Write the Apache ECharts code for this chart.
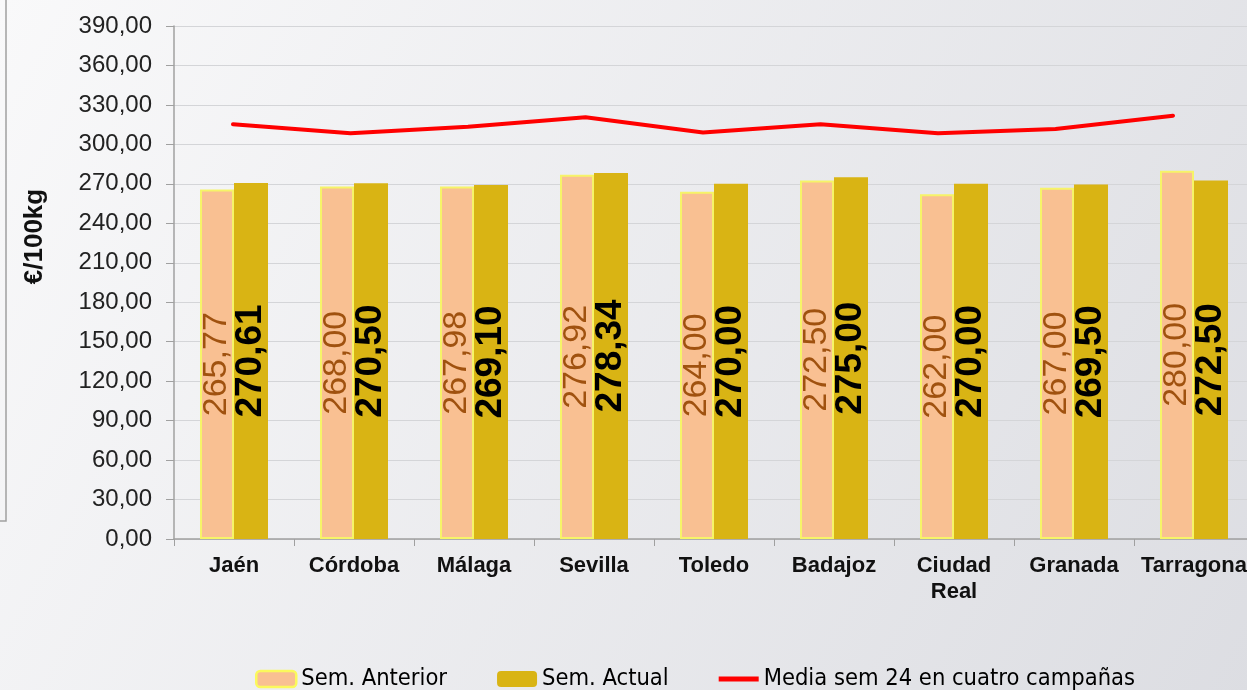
<!DOCTYPE html>
<html>
<head>
<meta charset="utf-8">
<script src="https://cdn.jsdelivr.net/npm/echarts@6/dist/echarts.min.js"></script>
<style>
  html, body { margin: 0; padding: 0; overflow: hidden; }
  #chart { width: 1260px; height: 690px; }
</style>
</head>
<body>
<div id="chart"></div>
<script>
// datos
var provincias = ['Jaén', 'Córdoba', 'Málaga', 'Sevilla', 'Toledo', 'Badajoz', 'Ciudad Real', 'Granada', 'Tarragona'];
var semAnterior = [265.77, 268.00, 267.98, 276.92, 264.00, 272.50, 262.00, 267.00, 280.00];
var semActual = [270.61, 270.50, 269.10, 278.34, 270.00, 275.00, 270.00, 269.50, 272.50];
var mediaCampanas = [315.3, 308.4, 313.4, 320.6, 309.0, 315.3, 308.4, 311.7, 321.8];

function coma(v) {
  return Number(v).toFixed(2).replace('.', ',');
}

var myChart = echarts.init(document.getElementById('chart'));

var option = {
  backgroundColor: {
    type: 'linear', x: 0, y: 0, x2: 1, y2: 1,
    colorStops: [
      { offset: 0, color: '#f9f9fa' },
      { offset: 1, color: '#dcdde2' }
    ]
  },
  animation: false,
  textStyle: { fontFamily: 'Liberation Sans, Arial, sans-serif' },
  graphic: [{
    type: 'polyline',
    shape: { points: [[6, 0], [6, 521], [0, 521]] },
    style: { stroke: '#a0a0a0', lineWidth: 1.5, fill: null }
  }],
  legend: {
    bottom: -6,
    left: 250,
    itemWidth: 40,
    itemHeight: 16,
    itemGap: 50,
    textStyle: {
      fontSize: 23.5,
      color: '#000',
      fontFamily: 'Liberation Sans Narrow, DejaVu Sans Condensed, sans-serif'
    },
    data: [
      { name: 'Sem. Anterior', itemStyle: { borderWidth: 2.5, borderColor: '#fbf95c' } },
      { name: 'Sem. Actual' },
      { name: 'Media sem 24 en cuatro campañas', icon: 'path://M0,0 L40,0 L40,5 L0,5 Z', itemStyle: { color: '#ff0000' } }
    ]
  },
  grid: [
    { left: 174, top: 26, width: 1080, height: 513 },
    { left: 233, top: 26, width: 940, height: 513 }
  ],
  xAxis: [{
    type: 'category',
    gridIndex: 0,
    data: provincias,
    axisLine: { lineStyle: { color: '#a0a0a0', width: 1.5 } },
    axisTick: { show: true, length: 7, lineStyle: { color: '#a0a0a0' } },
    axisLabel: {
      interval: 0,
      margin: 14,
      fontSize: 22,
      fontWeight: 'bold',
      color: '#111',
      lineHeight: 26,
      formatter: function (v) { return v.replace(' ', '\n'); }
    }
  }, {
    type: 'category',
    gridIndex: 1,
    data: provincias,
    boundaryGap: false,
    show: false
  }],
  yAxis: [{
    type: 'value',
    gridIndex: 0,
    min: 0,
    max: 390,
    interval: 30,
    name: '€/100kg',
    nameLocation: 'middle',
    nameGap: 126,
    nameRotate: 90,
    nameTextStyle: {
      fontSize: 26,
      fontWeight: 'bold',
      color: '#111',
      padding: [0, 0, 0, 92]
    },
    axisLine: { show: true, lineStyle: { color: '#a0a0a0', width: 1.5 } },
    axisTick: { show: true, length: 8, lineStyle: { color: '#a0a0a0' } },
    splitLine: { lineStyle: { color: '#d4d5d8', width: 1 } },
    axisLabel: {
      margin: 22,
      fontSize: 24,
      color: '#222',
      formatter: function (v) { return coma(v); }
    }
  }, {
    type: 'value',
    gridIndex: 1,
    min: 0,
    max: 390,
    show: false
  }],
  series: [{
    name: 'Sem. Anterior',
    type: 'bar',
    xAxisIndex: 0,
    yAxisIndex: 0,
    data: semAnterior,
    barWidth: 34,
    barGap: '0%',
    itemStyle: { color: '#f9c092', borderColor: '#f6f468', borderWidth: 2 },
    label: {
      show: true,
      position: 'inside',
      rotate: 90,
      fontSize: 34,
      color: '#a0520f',
      formatter: function (p) { return coma(p.value); }
    }
  }, {
    name: 'Sem. Actual',
    type: 'bar',
    xAxisIndex: 0,
    yAxisIndex: 0,
    data: semActual,
    barWidth: 34,
    itemStyle: { color: '#d9b414' },
    label: {
      show: true,
      position: 'inside',
      rotate: 90,
      fontSize: 37,
      fontWeight: 'bold',
      color: '#000',
      formatter: function (p) { return coma(p.value); }
    }
  }, {
    name: 'Media sem 24 en cuatro campañas',
    type: 'line',
    xAxisIndex: 1,
    yAxisIndex: 1,
    data: mediaCampanas,
    symbol: 'none',
    lineStyle: { color: '#ff0000', width: 4, cap: 'round', join: 'round' },
    itemStyle: { color: '#ff0000' }
  }]
};

myChart.setOption(option);
</script>
</body>
</html>
